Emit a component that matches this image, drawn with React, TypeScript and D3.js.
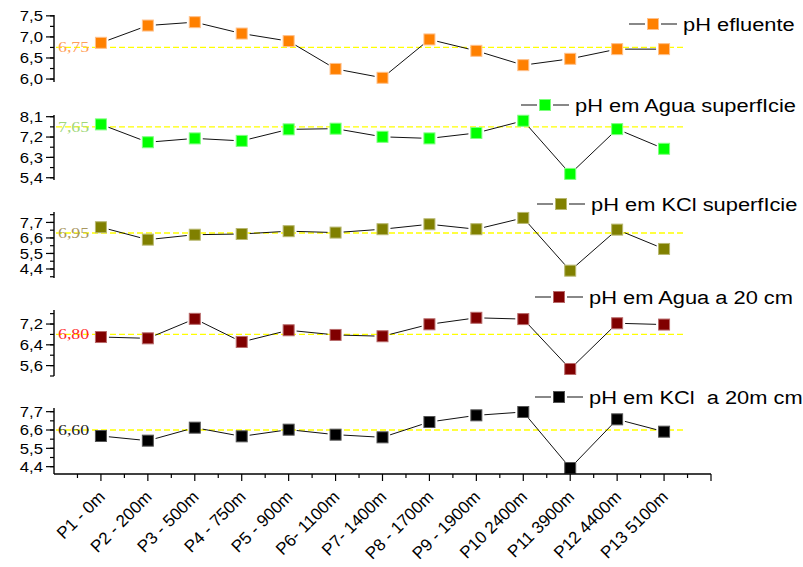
import React from "react";
import * as d3 from "d3";

// Sampling points along the transect
const categories = [
  "P1 - 0m",
  "P2 - 200m",
  "P3 - 500m",
  "P4 - 750m",
  "P5 - 900m",
  "P6- 1100m",
  "P7- 1400m",
  "P8 - 1700m",
  "P9 - 1900m",
  "P10 2400m",
  "P11 3900m",
  "P12 4400m",
  "P13 5100m",
];

// pH series, one value per sampling point
const phEfluente = [6.86, 7.27, 7.35, 7.08, 6.9, 6.24, 6.03, 6.94, 6.67, 6.33, 6.48, 6.71, 6.71];
const phAguaSuperficie = [7.76, 6.97, 7.14, 7.03, 7.54, 7.57, 7.21, 7.14, 7.38, 7.92, 5.57, 7.55, 6.68];
const phKclSuperficie = [7.36, 6.48, 6.83, 6.88, 7.08, 6.98, 7.22, 7.57, 7.22, 8.02, 4.28, 7.19, 5.82];
const phAgua20cm = [6.7, 6.65, 7.4, 6.51, 6.96, 6.78, 6.73, 7.19, 7.44, 7.39, 5.47, 7.23, 7.18];
const phKcl20cm = [6.24, 5.96, 6.74, 6.22, 6.62, 6.32, 6.16, 7.08, 7.48, 7.68, 4.32, 7.24, 6.5];

// Reference (mean) level drawn as a dashed line in each panel
const meanValues = [6.75, 7.65, 6.95, 6.8, 6.6];

const seriesNames = [
  "pH efluente",
  "pH em Agua superfIcie",
  "pH em KCl superfIcie",
  "pH em Agua a 20 cm",
  "pH em KCl  a 20m cm",
];

// Major tick values of each panel's y axis
const ticksEfluente = [6.0, 6.5, 7.0, 7.5];
const ticksAguaSuperficie = [5.4, 6.3, 7.2, 8.1];
const ticksKclSuperficie = [4.4, 5.5, 6.6, 7.7];
const ticksAgua20cm = [5.6, 6.4, 7.2];
const ticksKcl20cm = [4.4, 5.5, 6.6, 7.7];

const W = 803;
const H = 567;
const STRETCH = 1.15;
const SANS = "'Liberation Sans', Arial, sans-serif";
const SERIF = "'Liberation Serif', 'Times New Roman', serif";

const AXIS_X = 54;
const x = d3.scaleLinear().domain([0, categories.length + 1]).range([AXIS_X, 711]);

const panels = [
  {
    name: seriesNames[0], values: phEfluente, mean: meanValues[0], ticks: ticksEfluente,
    domain: [5.93, 7.52], top: 15, bottom: 82,
    fill: "#ff8000", edge: "#ffc08a", meanColor: "#ff9f5a",
    legendY: 24, legendX: 653,
  },
  {
    name: seriesNames[1], values: phAguaSuperficie, mean: meanValues[1], ticks: ticksAguaSuperficie,
    domain: [5.3, 8.175], top: 115, bottom: 180,
    fill: "#00ff00", edge: "#7dff7d", meanColor: "#9fd77a",
    legendY: 105, legendX: 545,
  },
  {
    name: seriesNames[2], values: phKclSuperficie, mean: meanValues[2], ticks: ticksKclSuperficie,
    domain: [3.76, 8.44], top: 212, bottom: 278,
    fill: "#808000", edge: "#b8b870", meanColor: "#a8975f",
    legendY: 204, legendX: 561,
  },
  {
    name: seriesNames[3], values: phAgua20cm, mean: meanValues[3], ticks: ticksAgua20cm,
    domain: [5.2, 7.74], top: 310, bottom: 376,
    fill: "#800000", edge: "#b86a6a", meanColor: "#ff2a2a",
    legendY: 297, legendX: 559,
  },
  {
    name: seriesNames[4], values: phKcl20cm, mean: meanValues[4], ticks: ticksKcl20cm,
    domain: [3.96, 7.92], top: 408, bottom: 474,
    fill: "#000000", edge: "#555555", meanColor: "#222222",
    legendY: 397, legendX: 559,
  },
];

const comma1 = (v: number) => d3.format(".1f")(v).replace(".", ",");
const comma2 = (v: number) => d3.format(".2f")(v).replace(".", ",");

const MARK = 11;
const GAP = 8;

function Panel({ p }: { p: (typeof panels)[number] }) {
  const y = d3.scaleLinear().domain(p.domain).range([p.bottom, p.top]);
  const step = p.ticks[1] - p.ticks[0];
  const minor: number[] = [];
  for (let t = p.ticks[0] - step / 2; t <= p.domain[1] + 1e-9; t += step / 2) {
    if (t >= p.domain[0] - 1e-9) minor.push(+t.toFixed(4));
  }
  const pts = p.values.map((v, i) => [x(i + 1), y(v)] as [number, number]);
  const segs = pts.slice(1).map((b, i) => {
    const a = pts[i];
    const dx = b[0] - a[0];
    const dy = b[1] - a[1];
    const len = Math.hypot(dx, dy);
    const ux = dx / len;
    const uy = dy / len;
    return [a[0] + ux * GAP, a[1] + uy * GAP, b[0] - ux * GAP, b[1] - uy * GAP];
  });
  const my = y(p.mean);
  return (
    <g>
      {/* dashed reference level */}
      <line x1={AXIS_X + 2} x2={686} y1={my} y2={my} stroke="#ffff00" strokeWidth={1.3} strokeDasharray="6 3" />
      {/* y axis */}
      <line x1={AXIS_X} x2={AXIS_X} y1={p.top} y2={p.bottom} stroke="#000" strokeWidth={1.4} />
      {minor.map((t) => (
        <line key={"m" + t} x1={AXIS_X - 4} x2={AXIS_X} y1={y(t)} y2={y(t)} stroke="#000" strokeWidth={1.2} />
      ))}
      {p.ticks.map((t) => (
        <g key={t}>
          <line x1={AXIS_X - 8} x2={AXIS_X} y1={y(t)} y2={y(t)} stroke="#000" strokeWidth={1.2} />
          <text
            transform={`translate(${AXIS_X - 11},${y(t)}) scale(${STRETCH},1)`}
            textAnchor="end"
            dy="0.36em"
            fontFamily={SANS}
            fontSize={14.5}
            fill="#000"
          >
            {comma1(t)}
          </text>
        </g>
      ))}
      <text
        transform={`translate(${AXIS_X + 4},${my}) scale(${STRETCH},1)`}
        dy="0.32em"
        fontFamily={SERIF}
        fontSize={15.5}
        fill={p.meanColor}
      >
        {comma2(p.mean)}
      </text>
      {/* connecting lines */}
      {segs.map((s, i) => (
        <line key={i} x1={s[0]} y1={s[1]} x2={s[2]} y2={s[3]} stroke="#111" strokeWidth={1} />
      ))}
      {/* markers */}
      {pts.map((pt, i) => (
        <rect
          key={i}
          x={pt[0] - MARK / 2}
          y={pt[1] - MARK / 2}
          width={MARK}
          height={MARK}
          fill={p.fill}
          stroke={p.edge}
          strokeWidth={1}
        />
      ))}
      {/* legend */}
      <line x1={p.legendX - 24} x2={p.legendX - 8} y1={p.legendY} y2={p.legendY} stroke="#555" strokeWidth={1.4} />
      <line x1={p.legendX + 8} x2={p.legendX + 24} y1={p.legendY} y2={p.legendY} stroke="#555" strokeWidth={1.4} />
      <rect
        x={p.legendX - MARK / 2}
        y={p.legendY - MARK / 2}
        width={MARK}
        height={MARK}
        fill={p.fill}
        stroke={p.edge}
        strokeWidth={1}
      />
      <text
        transform={`translate(${p.legendX + 30},${p.legendY}) scale(${STRETCH},1)`}
        dy="0.36em"
        fontFamily={SANS}
        fontSize={19}
        fill="#000"
        style={{ whiteSpace: "pre" }}
      >
        {p.name}
      </text>
    </g>
  );
}

export default function App() {
  const axisY = panels[panels.length - 1].bottom;
  const n = categories.length + 1;
  const major = d3.range(1, n + 1);
  const minor = d3.range(0, n).map((k) => k + 0.5);
  return (
    <svg
      width={W}
      height={H}
      viewBox={`0 0 ${W} ${H}`}
      style={{ position: "absolute", left: 0, top: 0, background: "#fff" }}
    >
      <rect width={W} height={H} fill="#fff" />
      {panels.map((p) => (
        <Panel key={p.name} p={p} />
      ))}
      {/* shared x axis */}
      <line x1={AXIS_X} x2={x(n)} y1={axisY} y2={axisY} stroke="#000" strokeWidth={1.4} />
      {minor.map((k) => (
        <line key={"xm" + k} x1={x(k)} x2={x(k)} y1={axisY} y2={axisY + 4} stroke="#000" strokeWidth={1.2} />
      ))}
      {major.map((k) => (
        <line key={"xM" + k} x1={x(k)} x2={x(k)} y1={axisY} y2={axisY + 7} stroke="#000" strokeWidth={1.2} />
      ))}
      {categories.map((c, i) => (
        <text
          key={c}
          transform={`translate(${x(i + 1) + 5},${axisY + 24}) rotate(-45)`}
          textAnchor="end"
          fontFamily={SANS}
          fontSize={17}
          fill="#000"
        >
          {c}
        </text>
      ))}
    </svg>
  );
}
